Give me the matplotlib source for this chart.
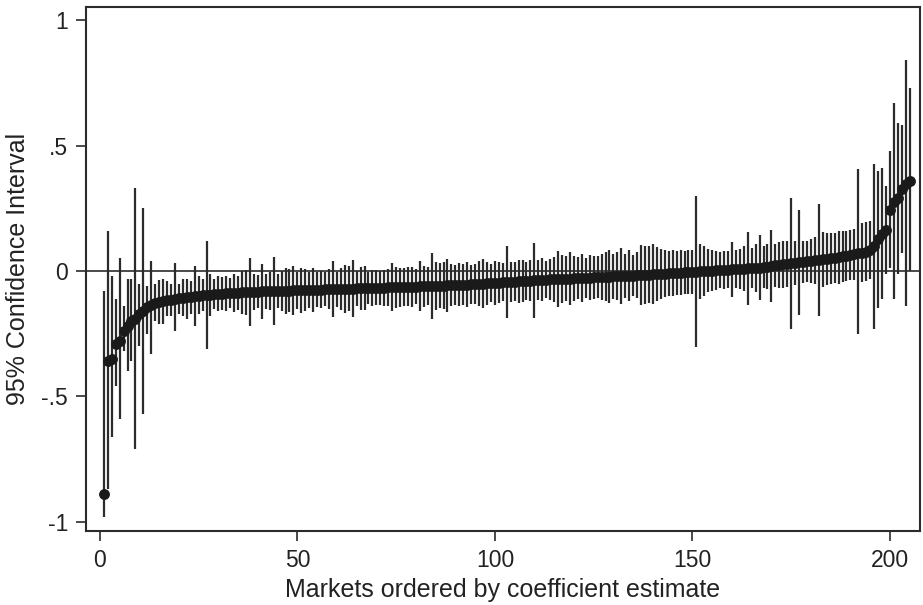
import numpy as np
import matplotlib.pyplot as plt

plt.rcParams['font.family'] = ['Liberation Sans', 'DejaVu Sans']

# coefficient estimates per market, already sorted
coef = [
    -0.89, -0.36, -0.35, -0.29, -0.28, -0.24, -0.22, -0.20, -0.19, -0.17,
    -0.16, -0.145, -0.135, -0.128, -0.124, -0.12, -0.117, -0.114, -0.111, -0.108,
    -0.106, -0.104, -0.102, -0.100, -0.098, -0.097, -0.095, -0.094, -0.092, -0.091,
    -0.090, -0.089, -0.088, -0.087, -0.086, -0.085, -0.084, -0.083, -0.083, -0.082,
    -0.081, -0.081, -0.080, -0.080, -0.079, -0.079, -0.078, -0.078, -0.077, -0.077,
    -0.076, -0.076, -0.075, -0.075, -0.074, -0.074, -0.073, -0.073, -0.072, -0.072,
    -0.071, -0.071, -0.070, -0.070, -0.069, -0.069, -0.068, -0.068, -0.067, -0.067,
    -0.066, -0.066, -0.065, -0.065, -0.064, -0.064, -0.063, -0.063, -0.062, -0.062,
    -0.061, -0.061, -0.060, -0.060, -0.059, -0.058, -0.058, -0.057, -0.056, -0.056,
    -0.055, -0.054, -0.054, -0.053, -0.052, -0.051, -0.050, -0.049, -0.048, -0.047,
    -0.046, -0.045, -0.044, -0.043, -0.042, -0.041, -0.040, -0.039, -0.038, -0.037,
    -0.036, -0.035, -0.034, -0.033, -0.033, -0.032, -0.031, -0.030, -0.030, -0.029,
    -0.028, -0.027, -0.027, -0.026, -0.025, -0.024, -0.024, -0.023, -0.022, -0.021,
    -0.021, -0.020, -0.019, -0.018, -0.018, -0.017, -0.016, -0.015, -0.014, -0.013,
    -0.012, -0.011, -0.010, -0.009, -0.008, -0.007, -0.006, -0.005, -0.004, -0.003,
    -0.002, -0.001, 0.000, 0.001, 0.002, 0.003, 0.004, 0.005, 0.006, 0.007,
    0.008, 0.009, 0.010, 0.011, 0.012, 0.013, 0.014, 0.016, 0.018, 0.020,
    0.022, 0.024, 0.026, 0.028, 0.030, 0.032, 0.034, 0.036, 0.038, 0.040,
    0.042, 0.044, 0.046, 0.048, 0.050, 0.052, 0.055, 0.058, 0.061, 0.064,
    0.066, 0.070, 0.073, 0.077, 0.085, 0.098, 0.127, 0.149, 0.165, 0.245,
    0.275, 0.290, 0.325, 0.345, 0.360,
]

# upper bound of the 95% CI
ci_hi = [
    -0.08, 0.16, -0.02, -0.11, 0.05, -0.14, -0.03, -0.03, 0.33, -0.05,
    0.25, -0.06, 0.04, -0.05, -0.035, -0.03, -0.04, -0.05, 0.03, -0.05,
    -0.03, -0.03, -0.04, 0.02, -0.02, -0.03, 0.12, -0.01, -0.03, -0.02,
    -0.025, -0.019, -0.028, -0.012, -0.018, 0.000, 0.006, 0.052, -0.011, -0.017,
    0.029, -0.011, -0.005, 0.055, -0.011, 0.001, 0.014, 0.007, 0.021, -0.002,
    0.014, 0.009, -0.003, 0.013, -0.004, 0.001, -0.005, 0.007, 0.040, -0.002,
    0.014, 0.024, 0.020, 0.045, 0.001, 0.016, 0.020, -0.003, 0.005, 0.003,
    0.002, 0.006, 0.010, 0.030, 0.018, 0.014, 0.012, 0.015, 0.018, 0.008,
    0.039, 0.021, 0.015, 0.070, 0.036, 0.030, 0.034, 0.048, 0.029, 0.022,
    0.030, 0.026, 0.034, 0.025, 0.028, 0.039, 0.048, 0.036, 0.027, 0.041,
    0.034, 0.030, 0.101, 0.037, 0.036, 0.044, 0.042, 0.036, 0.042, 0.113,
    0.044, 0.050, 0.041, 0.049, 0.057, 0.078, 0.064, 0.058, 0.075, 0.061,
    0.057, 0.068, 0.053, 0.062, 0.060, 0.058, 0.068, 0.075, 0.083, 0.069,
    0.074, 0.090, 0.069, 0.082, 0.062, 0.075, 0.102, 0.100, 0.098, 0.107,
    0.096, 0.089, 0.085, 0.081, 0.084, 0.081, 0.084, 0.080, 0.083, 0.085,
    0.298, 0.109, 0.100, 0.086, 0.082, 0.081, 0.074, 0.080, 0.078, 0.117,
    0.083, 0.089, 0.100, 0.156, 0.090, 0.108, 0.144, 0.098, 0.106, 0.165,
    0.107, 0.114, 0.121, 0.118, 0.290, 0.120, 0.244, 0.121, 0.118, 0.128,
    0.137, 0.269, 0.156, 0.153, 0.150, 0.150, 0.160, 0.160, 0.161, 0.162,
    0.168, 0.405, 0.190, 0.195, 0.200, 0.425, 0.400, 0.410, 0.340, 0.480,
    0.670, 0.590, 0.580, 0.840, 0.730,
]

# lower bound of the 95% CI
ci_lo = [
    -0.98, -0.87, -0.66, -0.46, -0.59, -0.32, -0.40, -0.36, -0.71, -0.30,
    -0.57, -0.25, -0.33, -0.20, -0.21, -0.21, -0.18, -0.18, -0.24, -0.17,
    -0.18, -0.19, -0.17, -0.22, -0.17, -0.16, -0.31, -0.18, -0.15, -0.16,
    -0.155, -0.159, -0.148, -0.162, -0.154, -0.170, -0.174, -0.218, -0.155, -0.147,
    -0.191, -0.151, -0.155, -0.215, -0.147, -0.159, -0.170, -0.163, -0.175, -0.152,
    -0.166, -0.161, -0.147, -0.163, -0.144, -0.149, -0.141, -0.153, -0.184, -0.142,
    -0.156, -0.166, -0.160, -0.185, -0.139, -0.154, -0.156, -0.133, -0.139, -0.137,
    -0.134, -0.138, -0.140, -0.160, -0.146, -0.142, -0.138, -0.141, -0.142, -0.132,
    -0.161, -0.143, -0.135, -0.190, -0.154, -0.146, -0.150, -0.162, -0.141, -0.134,
    -0.140, -0.134, -0.142, -0.131, -0.132, -0.141, -0.148, -0.134, -0.123, -0.135,
    -0.126, -0.120, -0.189, -0.123, -0.120, -0.126, -0.122, -0.114, -0.118, -0.187,
    -0.116, -0.120, -0.109, -0.115, -0.123, -0.142, -0.126, -0.118, -0.135, -0.119,
    -0.113, -0.122, -0.107, -0.114, -0.110, -0.106, -0.116, -0.121, -0.127, -0.111,
    -0.116, -0.130, -0.107, -0.118, -0.098, -0.109, -0.134, -0.130, -0.126, -0.133,
    -0.120, -0.111, -0.105, -0.099, -0.100, -0.095, -0.096, -0.090, -0.091, -0.091,
    -0.302, -0.111, -0.100, -0.084, -0.078, -0.075, -0.066, -0.070, -0.066, -0.103,
    -0.067, -0.071, -0.080, -0.134, -0.066, -0.082, -0.116, -0.066, -0.070, -0.125,
    -0.063, -0.066, -0.069, -0.062, -0.230, -0.056, -0.176, -0.049, -0.042, -0.048,
    -0.053, -0.181, -0.064, -0.057, -0.050, -0.046, -0.050, -0.044, -0.039, -0.034,
    -0.036, -0.250, -0.044, -0.041, -0.030, -0.230, -0.146, -0.113, -0.010, 0.013,
    -0.113, -0.013, 0.070, -0.140, 0.000,
]

rank = np.arange(1, len(coef) + 1)

fig = plt.figure(figsize=(9.23, 6.05), dpi=100)
ax = fig.add_axes([0.0932, 0.1223, 0.9035, 0.8661])

col = '#2b2b2b'
ax.vlines(rank, ci_lo, ci_hi, color=col, linewidth=1.6, zorder=2)
ax.axhline(0, color=col, linewidth=1.2, zorder=1)
ax.plot(rank, coef, 'o', color='#1a1a1a', markersize=6.8, zorder=3)

ax.set_xlim(-3.5, 207.6)
ax.set_ylim(-1.036, 1.052)
ax.set_xticks([0, 50, 100, 150, 200])
ax.set_yticks([-1, -0.5, 0, 0.5, 1])
ax.set_yticklabels(['-1', '-.5', '0', '.5', '1'])

for s in ax.spines.values():
    s.set_linewidth(1.5)
    s.set_color(col)
ax.tick_params(direction='out', length=7, width=1.2, color=col,
               labelsize=16.5, pad=6, labelcolor='#222222')

ax.set_xlabel('Markets ordered by coefficient estimate', fontsize=18,
              color='#222222', labelpad=4)
ax.set_ylabel('95% Confidence Interval', fontsize=18, color='#222222',
              labelpad=8)

fig.savefig('out.png', dpi=100)
